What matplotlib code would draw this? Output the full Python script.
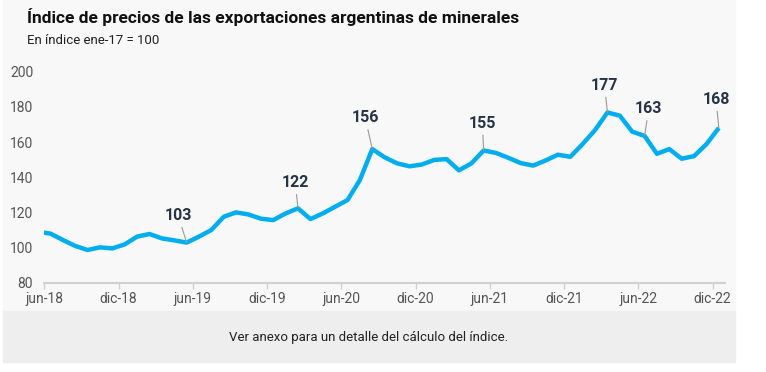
import numpy as np
import matplotlib
matplotlib.use('Agg')
import matplotlib.pyplot as plt
from matplotlib.patches import Rectangle

# monthly index values (mid-month), may-18 .. dic-22
months = ['may-18',
          'jun-18', 'jul-18', 'ago-18', 'sep-18', 'oct-18', 'nov-18',
          'dic-18', 'ene-19', 'feb-19', 'mar-19', 'abr-19', 'may-19',
          'jun-19', 'jul-19', 'ago-19', 'sep-19', 'oct-19', 'nov-19',
          'dic-19', 'ene-20', 'feb-20', 'mar-20', 'abr-20', 'may-20',
          'jun-20', 'jul-20', 'ago-20', 'sep-20', 'oct-20', 'nov-20',
          'dic-20', 'ene-21', 'feb-21', 'mar-21', 'abr-21', 'may-21',
          'jun-21', 'jul-21', 'ago-21', 'sep-21', 'oct-21', 'nov-21',
          'dic-21', 'ene-22', 'feb-22', 'mar-22', 'abr-22', 'may-22',
          'jun-22', 'jul-22', 'ago-22', 'sep-22', 'oct-22', 'nov-22',
          'dic-22']
index_values = [109.0,
                107.9, 104.3, 100.9, 98.6, 100.1, 99.5,
                101.8, 106.2, 107.7, 105.2, 104.1, 102.8,
                106.2, 110.0, 117.5, 120.0, 118.8, 116.4,
                115.6, 119.4, 122.3, 116.2, 119.4, 123.2,
                127.0, 138.4, 156.0, 151.3, 147.9, 146.2,
                147.2, 149.8, 150.3, 143.9, 147.8, 155.2,
                153.8, 151.0, 148.0, 146.6, 149.5, 152.8,
                151.6, 158.9, 166.8, 176.8, 175.0, 165.9,
                163.5, 153.3, 156.0, 150.5, 152.0, 158.8,
                168.0]

tick_labels = ['jun-18', 'dic-18', 'jun-19', 'dic-19', 'jun-20',
               'dic-20', 'jun-21', 'dic-21', 'jun-22', 'dic-22']

# highlighted points
label_months = ['may-19', 'feb-20', 'ago-20', 'may-21', 'mar-22', 'jun-22', 'dic-22']
label_texts = ['103', '122', '156', '155', '177', '163', '168']
label_offsets = [(-6, 14), (-2, 13), (-5, 17), (-1, 14), (-2, 14), (3, 14), (-2, 15)]

plt.rcParams['font.family'] = ['Roboto', 'DejaVu Sans']

fig = plt.figure(figsize=(7.66, 3.72), dpi=100)
fig.patch.set_facecolor('white')

# panel + footer backgrounds
fig.patches.append(Rectangle((3 / 766, 1 - 310 / 372), 732 / 766, 310 / 372,
                             transform=fig.transFigure, color='#f8f8f8', zorder=-2))
fig.patches.append(Rectangle((3 / 766, 1 - 362 / 372), 732 / 766, 51 / 372,
                             transform=fig.transFigure, color='#eeeeee', zorder=-2))

ax = fig.add_axes([44.3 / 766, 1 - 282.7 / 372, (725 - 44.3) / 766, 211 / 372])
ax.set_facecolor('none')

x = np.arange(len(months)) - 0.5  # mid-month, jun-18 starts at 0
ax.plot(x, index_values, color='#00aeef', lw=3.2, solid_capstyle='butt',
        solid_joinstyle='round', clip_on=True)

for m, txt, (dx, dy) in zip(label_months, label_texts, label_offsets):
    i = months.index(m)
    ax.annotate(txt, xy=(x[i], index_values[i]), xytext=(dx, dy),
                textcoords='offset points', ha='center', va='bottom',
                fontsize=11.5, fontweight='bold', color='#263445',
                arrowprops=dict(arrowstyle='-', color='#999999', lw=0.8,
                                shrinkA=1, shrinkB=0))

ax.set_xlim(0, 55)
ax.set_ylim(80, 200)
ax.set_yticks(np.arange(80, 201, 20))
ax.set_xticks(np.arange(0, 55, 6))
ax.set_xticklabels(tick_labels)

ax.spines['top'].set_visible(False)
ax.spines['right'].set_visible(False)
ax.spines['left'].set_visible(False)
ax.spines['bottom'].set_color('#d0d0d0')
ax.spines['bottom'].set_linewidth(1.5)
ax.tick_params(axis='y', length=0, labelsize=10, labelcolor='#555555', pad=8)
ax.tick_params(axis='x', length=4, width=1, color='#d0d0d0', labelsize=10,
               labelcolor='#555555', pad=3)

fig.text(27 / 766, 1 - 17 / 372, 'Índice de precios de las exportaciones argentinas de minerales',
         fontsize=12.5, fontweight='bold', color='#111111', va='center', ha='left')
fig.text(27 / 766, 1 - 40 / 372, 'En índice ene-17 = 100',
         fontsize=9.5, color='#222222', va='center', ha='left')
fig.text(369 / 766, 1 - 337 / 372, 'Ver anexo para un detalle del cálculo del índice.',
         fontsize=9.5, color='#222222', va='center', ha='center')

fig.savefig('out.png', dpi=100, facecolor=fig.get_facecolor())
